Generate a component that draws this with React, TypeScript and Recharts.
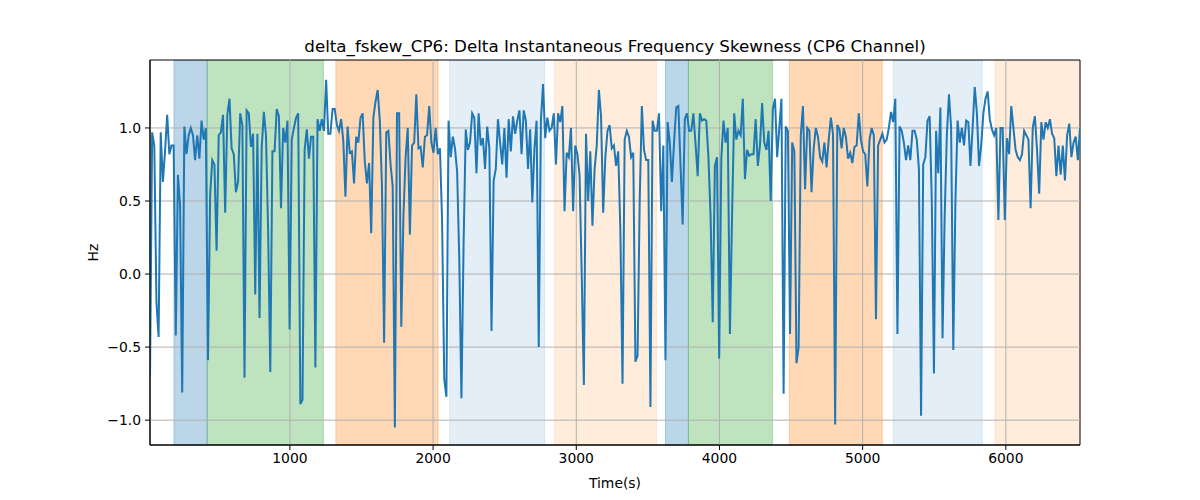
import { ComposedChart, Line, XAxis, YAxis, ReferenceLine, ReferenceArea } from 'recharts';

// sampling grid of the signal (seconds)
const TIME_START = 23;
const TIME_STEP = 15;

const skewness = [
  -0.7, 0.97, 0.88, -0.19, -0.43, 0.97, 0.63, 0.84, 1.09, 0.82, 0.88, 0.88, -0.42, 0.68, 0.47, -0.81, 1.01, 0.82, 0.95, 1.0,
  0.95, 0.78, 0.95, 0.79, 1.05, 0.92, 1.0, -0.59, 0.54, 0.78, 0.75, 0.16, 0.95, 0.97, 1.09, 0.42, 1.09, 1.2, 0.86, 0.82,
  0.56, 0.63, 1.1, 1.02, -0.71, 1.12, 1.1, 0.87, 0.96, -0.14, 0.96, -0.3, 0.86, 1.11, 0.95, 0.3, -0.67, 0.84,
  0.84, 1.13, 1.08, 0.45, 1.0, 0.9, 1.05, -0.38, 0.92, 1.0, 1.07, 1.1, -0.89, -0.86, 0.85, 0.99, 0.79, 0.94, 0.94, -0.64,
  1.06, 0.98, 1.06, 0.98, 1.33, 0.96, 0.96, 1.13, 1.13, 1.02, 0.98, 1.06, 0.91, 0.53, 1.01, 0.83, 0.84, 0.62, 0.94, 0.9,
  1.07, 1.1, 0.77, 0.62, 0.76, 0.28, 1.07, 1.18, 1.26, 1.05, 0.6, -0.47, 0.97, 0.98, 0.75, 0.6, -1.05,
  1.1, 1.1, -0.36, 0.4, 0.8, 1.0, 0.27, 0.88, 0.9, 1.23, 0.86, 0.87, 0.73, 0.94, 0.95, 1.15, 0.9, 0.83, 1.0, 0.82,
  0.86, 0.36, -0.72, -0.84, 1.05, 0.8, 0.94, 0.86, 0.7, 0.1, -0.85, 0.2, 0.99, 0.85, 0.9, 1.1, 1.07, 0.69, 1.1, 0.88,
  0.93, 0.72, 1.01, 0.86, -0.39, 0.64, 0.72, 1.06, 0.9, 0.75, 1.0, 0.66, 1.06, 0.84, 1.08, 0.96, 1.05, 1.12, 0.82,
  1.12, 1.05, 0.72, 0.99, 0.49, 0.86, 1.05, -0.5, 1.05, 1.3, 0.93, 1.07, 0.98, 1.0, 1.1, 0.75, 1.1, 1.04, 1.15, 0.43,
  0.83, 0.8, 1.0, 0.43, 0.88, 0.82, 0.68, 0.0, -0.76, 0.96, 0.5, 0.84, 0.33, 0.72, 0.88, 1.26, 1.08, 0.42, 0.8, 0.98,
  1.02, 0.86, 0.88, 0.74, 0.84, 0.3, -0.75, 0.92, 0.98, 0.94, 0.8, 0.83, -0.6, -0.56, 0.5, 1.15, 0.85, 0.78,
  0.78, -0.91, 1.05, 0.98, 0.98, 1.1, 0.43, 0.88, -0.59, 1.04, 0.9, 0.63, 0.9, 1.14, 1.15, 0.75, 0.34, 1.06, 1.1, 0.98,
  0.98, 1.1, 0.89, 0.67, 1.1, 1.05, 1.06, 1.05, 0.8, 0.4, -0.33, 0.74, 0.8, -0.58, 0.79, 1.05, 0.9, 1.0, -0.41, 0.4,
  1.1, 0.92, 0.98, 0.95, 1.2, 0.65, 0.85, 0.81, 0.82, 0.82, 1.06, 0.74, 0.88, 1.17, 0.9, 0.85, 0.98, 0.5, 1.13,
  1.2, 0.8, 1.0, 1.2, -0.82, 1.01, 0.98, -0.41, 0.9, 0.84, -0.61, -0.5, 0.95, 1.15, 0.58, 1.0, 0.98, 0.56, 0.86, 1.0,
  0.94, 0.8, 0.77, 0.9, 0.73, 0.92, 1.07, 0.96, -1.03, 1.02, 0.99, 0.86, 1.0, 0.94, 0.79, 0.83, 0.76, 0.87, 0.88, 1.1,
  0.92, 0.84, 0.82, 0.6, 0.92, 1.0, 0.95, -0.31, 0.88, 0.92, 0.96, 0.9, 0.92, 1.0, 1.11, 1.04, 1.2, -0.41,
  1.01, 0.98, 0.9, 0.78, 0.88, 0.78, 0.98, 0.98, 0.92, 0.72, -0.97, 0.75, 0.8, 1.05, 1.08, 0.5, -0.68, 0.98, 0.69, 1.14,
  -0.44, 0.4, 0.95, 1.23, 1.0, -0.52, 0.5, 1.05, 0.9, 1.0, 0.88, 1.05, 1.04, 0.74, 1.0, 1.28, 1.1, 0.74, 0.88, 1.1,
  1.2, 1.25, 1.06, 0.99, 0.95, 1.0, 0.37, 1.0, 1.0, 0.37, 0.93, 0.82, 1.15, 1.0, 0.85, 0.8, 0.78, 0.82, 0.98,
  0.95, 0.92, 0.45, 1.0, 1.08, 0.85, 0.55, 1.04, 0.92, 1.04, 1.0, 1.06, 0.96, 0.93, 0.67, 0.88, 0.68, 0.88, 0.64, 0.95,
  1.03, 0.8, 0.9, 0.94, 0.78, 1.0,
];

// shaded segments
const spanStarts = [190, 422, 1321, 2116, 2849, 3623, 3783, 4488, 5214, 5925];
const spanEnds = [422, 1234, 2035, 2779, 3560, 3783, 4370, 5137, 5835, 6600];
const spanColors = ['#1f77b4', '#2ca02c', '#ff7f0e', '#1f77b4', '#ff7f0e', '#1f77b4', '#2ca02c', '#ff7f0e', '#1f77b4', '#ff7f0e'];
const spanAlphas = [0.3, 0.3, 0.3, 0.12, 0.15, 0.3, 0.3, 0.3, 0.12, 0.15];

const xTicks = [1000, 2000, 3000, 4000, 5000, 6000];
const yTicks = [-1.0, -0.5, 0.0, 0.5, 1.0];

const X_MIN = TIME_START;
const X_MAX = TIME_START + (skewness.length - 1) * TIME_STEP;
const Y_MIN = -1.17;
const Y_MAX = 1.465;

const FONT = 'DejaVu Sans, sans-serif';
const GRID = '#b0b0b0';

const data = skewness.map((v, i) => ({ t: TIME_START + i * TIME_STEP, v }));

const fmtY = (v: number) => (v < 0 ? '\u2212' : '') + Math.abs(v).toFixed(1);

function HzLabel(props: any) {
  const vb = props.viewBox || { x: 90, y: 60, height: 385 };
  const cx = vb.x + 3;
  const cy = vb.y + vb.height / 2;
  return (
    <text x={cx} y={cy} transform={`rotate(-90, ${cx}, ${cy})`} textAnchor="middle" dominantBaseline="central"
      fontFamily={FONT} fontSize={13.9} fill="#000">
      Hz
    </text>
  );
}

export default function App() {
  return (
    <div style={{ position: 'relative', width: 1200, height: 500, background: '#fff', fontFamily: FONT }}>
      <style>{'body{margin:0}'}</style>
      <div style={{ position: 'absolute', left: 150, width: 930, top: 36, textAlign: 'center', fontSize: 16.7, lineHeight: '20px', color: '#000' }}>
        delta_fskew_CP6: Delta Instantaneous Frequency Skewness (CP6 Channel)
      </div>
      <ComposedChart width={1200} height={500} data={data} margin={{ top: 60, right: 120, bottom: 0, left: 90 }}>
        {spanStarts.map((s, i) => (
          <ReferenceArea key={`s${i}`} x1={s} x2={spanEnds[i]} y1={Y_MIN} y2={Y_MAX} ifOverflow="hidden"
            fill={spanColors[i]} fillOpacity={spanAlphas[i]} stroke={spanColors[i]} strokeOpacity={spanAlphas[i]} />
        ))}
        {xTicks.map((t) => (
          <ReferenceLine key={`gx${t}`} x={t} stroke={GRID} strokeWidth={1} />
        ))}
        {yTicks.map((t) => (
          <ReferenceLine key={`gy${t}`} y={t} stroke={GRID} strokeWidth={1} />
        ))}
        <XAxis type="number" dataKey="t" domain={[X_MIN, X_MAX]} allowDataOverflow ticks={xTicks} height={55}
          tick={{ fill: '#000', fontSize: 13.9, fontFamily: FONT }} tickSize={5} tickMargin={3}
          axisLine={{ stroke: '#000' }} tickLine={{ stroke: '#000' }}
          label={{ value: 'Time(s)', position: 'insideBottom', offset: 12, fill: '#000', fontSize: 13.9, fontFamily: FONT }} />
        <YAxis type="number" domain={[Y_MIN, Y_MAX]} allowDataOverflow ticks={yTicks} width={60}
          tickFormatter={fmtY} tick={{ fill: '#000', fontSize: 13.9, fontFamily: FONT }} tickSize={5} tickMargin={4}
          axisLine={{ stroke: '#000' }} tickLine={{ stroke: '#000' }} label={<HzLabel />} />
        <Line type="linear" dataKey="v" stroke="#1f77b4" strokeWidth={2} dot={false} isAnimationActive={false} />
        <ReferenceArea x1={X_MIN} x2={X_MAX} y1={Y_MIN} y2={Y_MAX} ifOverflow="visible" fill="none" stroke="#000" strokeWidth={1} />
      </ComposedChart>
    </div>
  );
}
